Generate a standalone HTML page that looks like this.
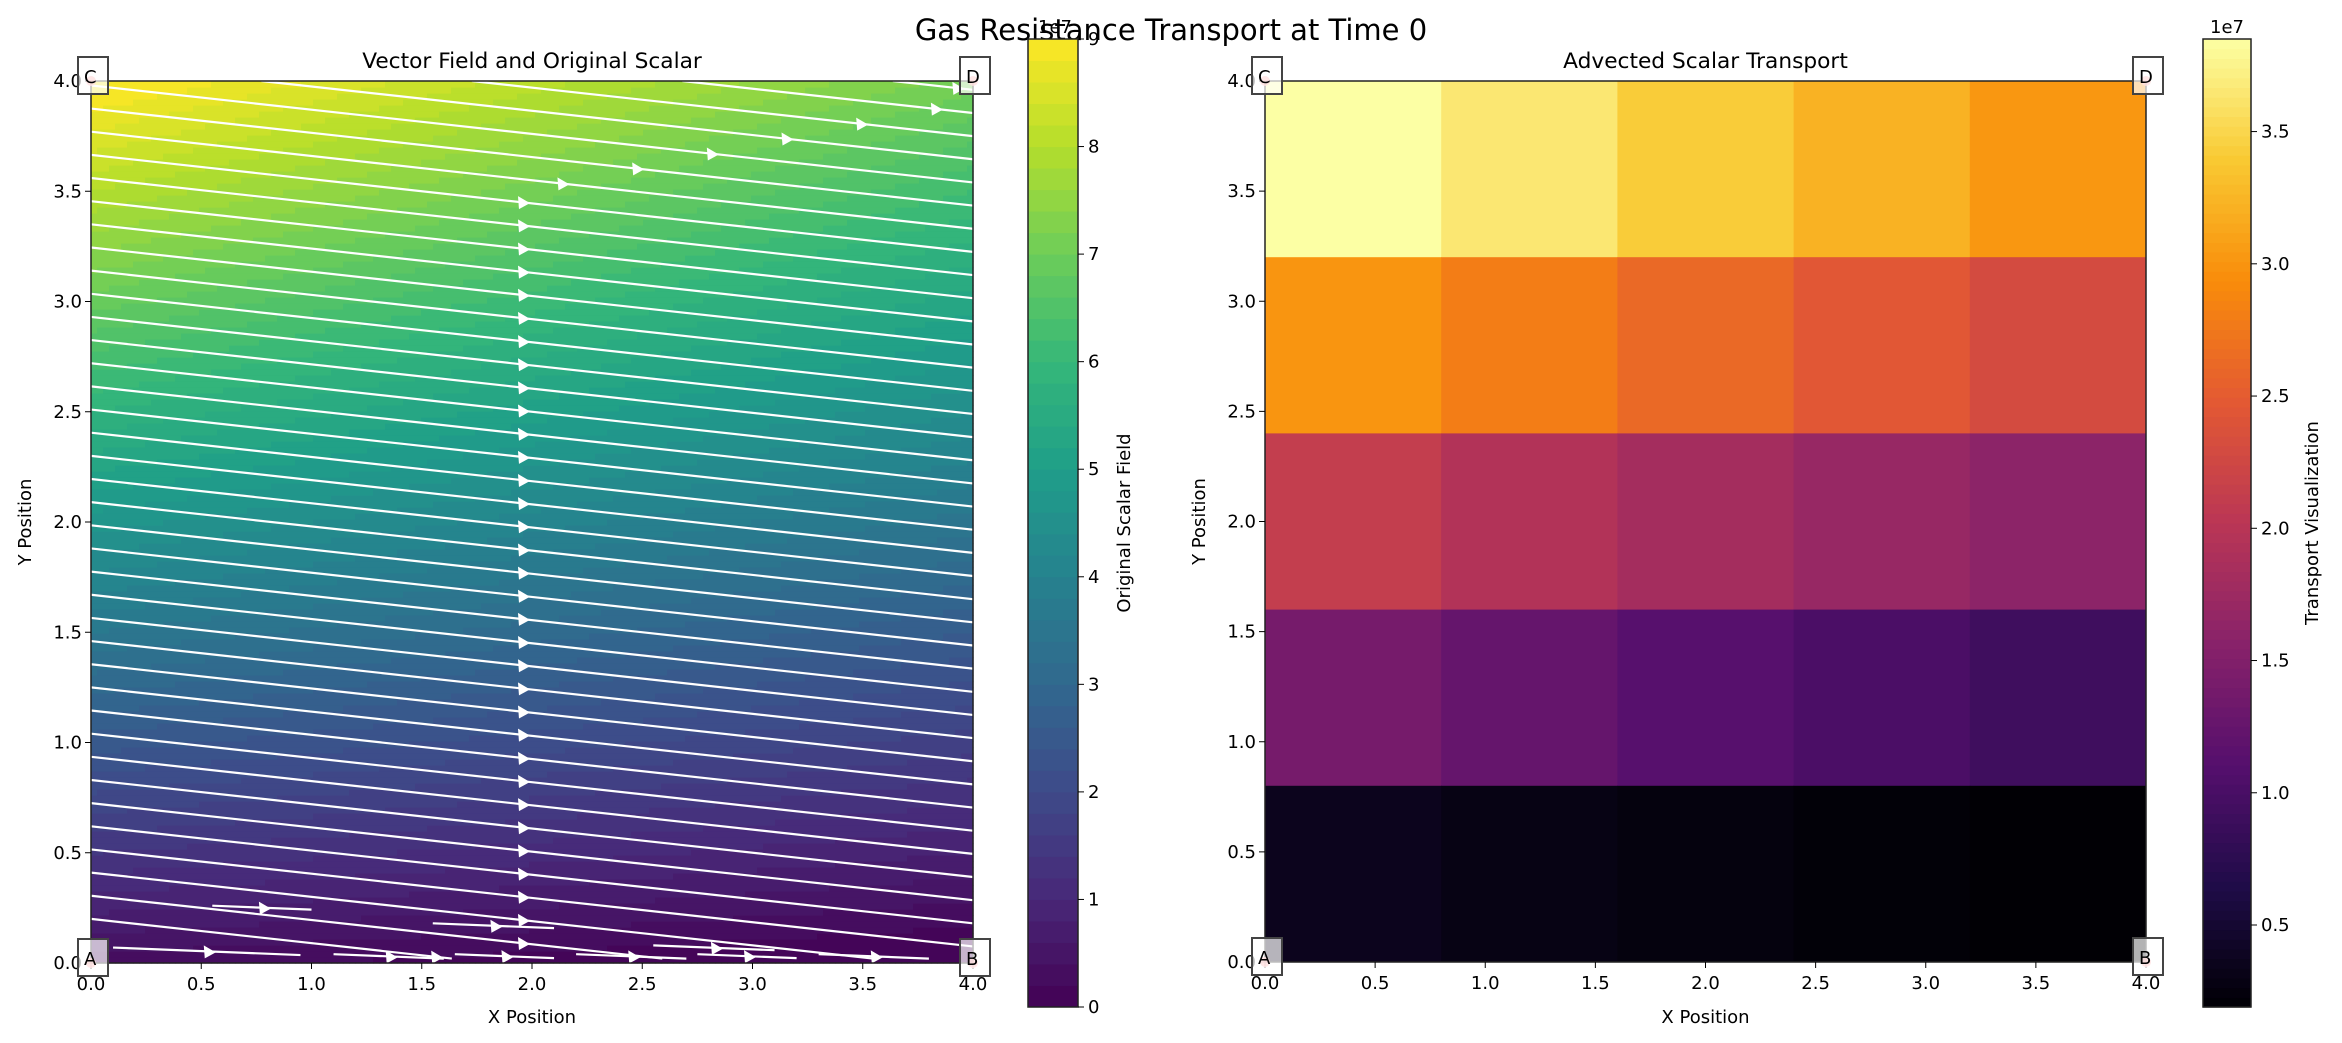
<!DOCTYPE html>
<html><head><meta charset="utf-8"><style>
body{margin:0;background:#fff;}
svg{display:block;font-family:"DejaVu Sans","Liberation Sans",sans-serif;}
</style></head><body>
<svg id="fig" width="2342" height="1043" viewBox="0 0 2342 1043" xmlns="http://www.w3.org/2000/svg">
<text x="1171" y="40" font-size="29" text-anchor="middle">Gas Resistance Transport at Time 0</text>
</svg>
<script>
const NS='http://www.w3.org/2000/svg';
const svg=document.getElementById('fig');
const tickVals=[0,0.5,1,1.5,2,2.5,3,3.5,4];
const tickLabels=['0.0','0.5','1.0','1.5','2.0','2.5','3.0','3.5','4.0'];
const leftCbTicks=[0,1,2,3,4,5,6,7,8,9];
const rightCbTicks=[0.5,1,1.5,2,2.5,3,3.5];
const rightCbLabels=['0.5','1.0','1.5','2.0','2.5','3.0','3.5'];
// advected cells (1e7), rows top->bottom
const row1=[3.85,3.65,3.42,3.22,3.02];
const row2=[3.0,2.8,2.62,2.45,2.3];
const row3=[2.12,1.95,1.82,1.7,1.6];
const row4=[1.4,1.25,1.12,1.02,0.92];
const row5=[0.36,0.3,0.26,0.22,0.2];
const cells=[row1,row2,row3,row4,row5];
const streamOffsets=[];for(let c=4.4;c>0.1;c-=0.105)streamOffsets.push(+c.toFixed(3));
const shortSegs=[[0.55,0.26,1.0],[1.55,0.18,2.1],[2.55,0.08,3.1],[1.1,0.04,1.6],[1.65,0.04,2.1],[2.2,0.04,2.7],[2.75,0.04,3.2],[3.3,0.04,3.8],[0.1,0.07,0.95]];

function el(t,a,p){const e=document.createElementNS(NS,t);for(const k in a)e.setAttribute(k,a[k]);(p||svg).appendChild(e);return e;}
function lerpMap(stops,t){t=Math.max(0,Math.min(1,t));const n=stops.length-1;const i=Math.min(n-1,Math.floor(t*n));const f=t*n-i;const a=stops[i],b=stops[i+1];return `rgb(${a.map((v,k)=>Math.round(v+(b[k]-v)*f)).join(',')})`;}
const viridis=[[68,1,84],[72,40,120],[62,74,137],[49,104,142],[38,130,142],[31,158,137],[53,183,121],[109,205,89],[180,222,44],[253,231,37]];
const inferno=[[0,0,4],[31,12,72],[85,15,109],[136,34,106],[186,54,85],[227,89,51],[249,140,10],[249,201,50],[252,255,164]];

function axes(L,T,S,title){
 const x=v=>L+v/4*S, y=v=>T+S-v/4*S;
 return {x,y,L,T,S,title};
}
function decorate(ax,nm){
 el('rect',{x:ax.L,y:ax.T,width:ax.S,height:ax.S,fill:'none',stroke:'#222','stroke-width':1.5,});
 tickVals.forEach((v,i)=>{
  el('line',{x1:ax.x(v),x2:ax.x(v),y1:ax.T+ax.S,y2:ax.T+ax.S+6,stroke:'#000'});
  let t=el('text',{x:ax.x(v),y:ax.T+ax.S+27,'font-size':18,'text-anchor':'middle',});t.textContent=tickLabels[i];
  el('line',{x1:ax.L-6,x2:ax.L,y1:ax.y(v),y2:ax.y(v),stroke:'#000'});
  t=el('text',{x:ax.L-9,y:ax.y(v)+6,'font-size':18,'text-anchor':'end',});t.textContent=tickLabels[i];
 });
 let t=el('text',{x:ax.L+ax.S/2,y:1023,'font-size':18,'text-anchor':'middle',});t.textContent='X Position';
 t=el('text',{x:0,y:0,'font-size':18,'text-anchor':'middle',transform:`translate(${ax.L-60},${ax.T+ax.S/2}) rotate(-90)`,});t.textContent='Y Position';
 t=el('text',{x:ax.L+ax.S/2,y:ax.T-13,'font-size':21.7,'text-anchor':'middle',});t.textContent=ax.title;
 [['A',0,0],['B',4,0],['C',0,4],['D',4,4]].forEach(([lab,vx,vy])=>{
  el('circle',{cx:ax.x(vx),cy:ax.y(vy),r:5,fill:'#ff9999',opacity:0.8});
  el('rect',{x:ax.x(vx)-13,y:ax.y(vy)-24,width:30,height:37,fill:'rgba(255,255,255,0.7)',stroke:'#444','stroke-width':2,});
  const tt=el('text',{x:ax.x(vx)-7,y:ax.y(vy)+2,'font-size':18});tt.textContent=lab;
 });
}
// LEFT
const A=axes(91,81,882,'Vector Field and Original Scalar');
function field(x,y){return 2.2*y+0.3-x*(0.1+0.1*y);}
const levels=45;
const g=el('g',{});
const N=147;
for(let i=0;i<N;i++)for(let j=0;j<N;j++){
 const xv=(i+0.5)/N*4,yv=(j+0.5)/N*4;
 let f=Math.max(0,Math.min(8.999,field(xv,yv)));f=(Math.floor(f/9*levels)+0.5)/levels;
 el('rect',{x:A.x(i/N*4),y:A.y((j+1)/N*4),width:A.S/N+0.6,height:A.S/N+0.6,fill:lerpMap(viridis,f)},g);
}
const sg=el('g',{});
streamOffsets.forEach(c=>{
 let x1=0,y1=c,x2=4,y2=c-0.44;
 if(y1>4){x1=(c-4)/0.11;y1=4;}
 if(y2<0.02){x2=(c-0.02)/0.11;y2=0.02;}
 if(x1>=x2-0.05)return;
 el('line',{x1:A.x(x1),y1:A.y(y1),x2:A.x(x2),y2:A.y(y2),stroke:'#fff','stroke-width':2.2,},sg);
 let ax=c>3.7?(5*c-15.55)/1.55:1.95;
 ax=Math.max(x1+0.08,Math.min(x2-0.08,ax));
 const ay=c-0.11*ax;const px=A.x(ax),py=A.y(ay);
 el('polygon',{points:`${px+9},${py+1} ${px-3},${py-6} ${px-2},${py+7}`,fill:'#fff',},sg);
});
shortSegs.forEach(([a,yy,b])=>{
 el('line',{x1:A.x(a),y1:A.y(yy),x2:A.x(b),y2:A.y(yy-0.04*(b-a)),stroke:'#fff','stroke-width':2.2,},sg);
 const m=(a+b)/2,px=A.x(m),py=A.y(yy-0.02*(b-a));
 el('polygon',{points:`${px+9},${py+1} ${px-3},${py-6} ${px-2},${py+7}`,fill:'#fff'},sg);
});
decorate(A,'left');
// left colorbar
const cb1={L:1028,T:39,W:50,H:968};
for(let k=0;k<levels;k++){el('rect',{x:cb1.L,y:cb1.T+cb1.H-(k+1)/levels*cb1.H,width:cb1.W,height:cb1.H/levels+0.5,fill:lerpMap(viridis,(k+0.5)/levels)});}
el('rect',{x:cb1.L,y:cb1.T,width:cb1.W,height:cb1.H,fill:'none',stroke:'#222','stroke-width':1.5,});
leftCbTicks.forEach(v=>{const yy=cb1.T+cb1.H-v/9*cb1.H;el('line',{x1:cb1.L+cb1.W,x2:cb1.L+cb1.W+6,y1:yy,y2:yy,stroke:'#000'});const t=el('text',{x:cb1.L+cb1.W+10,y:yy+6,'font-size':18,});t.textContent=v;});
let t=el('text',{x:cb1.L+cb1.W/2+2,y:cb1.T-6,'font-size':18,'text-anchor':'middle'});t.textContent='1e7';
t=el('text',{x:0,y:0,'font-size':18,'text-anchor':'middle',transform:`translate(${cb1.L+cb1.W+52},${cb1.T+cb1.H/2}) rotate(-90)`,});t.textContent='Original Scalar Field';
// RIGHT
const B=axes(1265,81,881,'Advected Scalar Transport');
const vmin=0.19,vmax=3.85;
const hg=el('g',{});
cells.forEach((row,r)=>row.forEach((v,c)=>{
 const e=el('rect',{x:B.x(c*0.8),y:B.y(4-r*0.8),width:B.S/5+0.5,height:B.S/5+0.5,fill:lerpMap(inferno,(v-vmin)/(vmax-vmin))},hg);
 
 
}));
decorate(B,'right');
const cb2={L:2203,T:39,W:48,H:968};
for(let k=0;k<100;k++){el('rect',{x:cb2.L,y:cb2.T+cb2.H-(k+1)/100*cb2.H,width:cb2.W,height:cb2.H/100+0.6,fill:lerpMap(inferno,(k+0.5)/100)});}
el('rect',{x:cb2.L,y:cb2.T,width:cb2.W,height:cb2.H,fill:'none',stroke:'#222','stroke-width':1.5,});
rightCbTicks.forEach((v,i)=>{const yy=cb2.T+cb2.H-(v-vmin)/(vmax-vmin)*cb2.H;el('line',{x1:cb2.L+cb2.W,x2:cb2.L+cb2.W+6,y1:yy,y2:yy,stroke:'#000'});const t=el('text',{x:cb2.L+cb2.W+10,y:yy+6,'font-size':18,});t.textContent=rightCbLabels[i];});
t=el('text',{x:cb2.L+cb2.W/2,y:cb2.T-6,'font-size':18,'text-anchor':'middle'});t.textContent='1e7';
t=el('text',{x:0,y:0,'font-size':18,'text-anchor':'middle',transform:`translate(${cb2.L+cb2.W+67},${cb2.T+cb2.H/2}) rotate(-90)`,});t.textContent='Transport Visualization';
</script>
</body></html>
